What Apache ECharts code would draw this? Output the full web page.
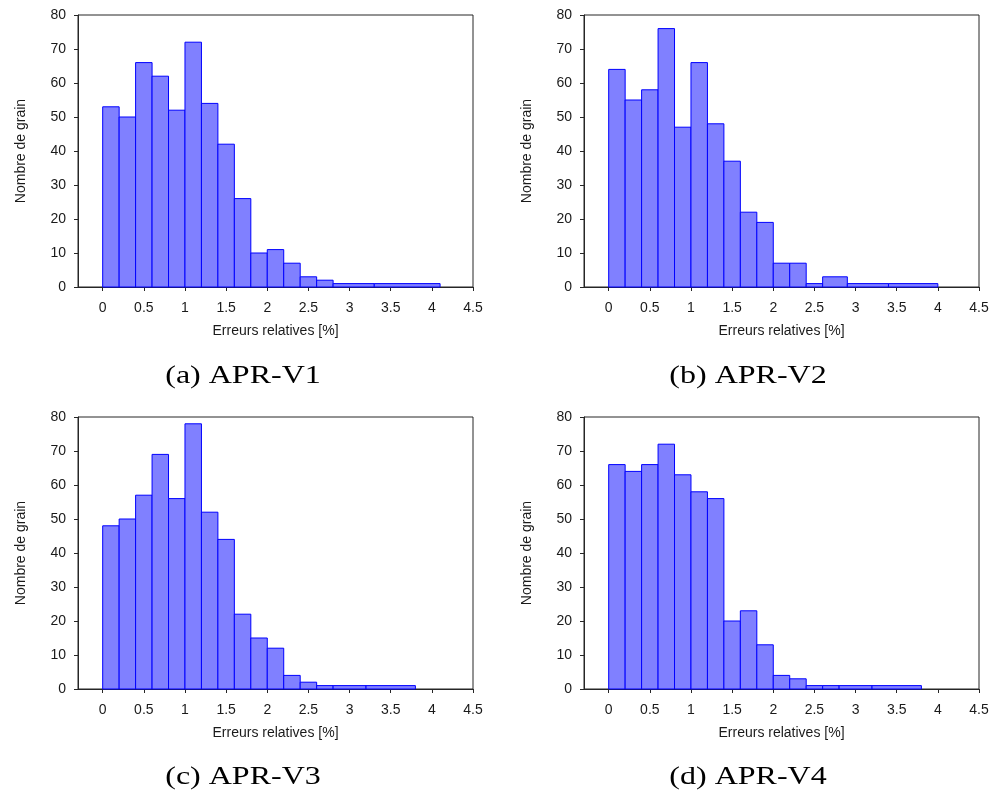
<!DOCTYPE html>
<html>
<head>
<meta charset="utf-8">
<script src="https://cdn.jsdelivr.net/npm/echarts@6/dist/echarts.min.js"></script>
<style>html,body{margin:0;padding:0;background:#fff}#c{width:995px;height:794px}</style>
</head>
<body>
<div id="c"></div>
<script>
// ---- data ----
const edgesA = [0, 0.2, 0.4, 0.6, 0.8, 1.0, 1.2, 1.4, 1.6, 1.8, 2.0, 2.2, 2.4, 2.6, 2.8, 3.3, 4.1];
const countsA = [53, 50, 66, 62, 52, 72, 54, 42, 26, 10, 11, 7, 3, 2, 1, 1];
const edgesB = [0, 0.2, 0.4, 0.6, 0.8, 1.0, 1.2, 1.4, 1.6, 1.8, 2.0, 2.2, 2.4, 2.6, 2.9, 3.4, 4.0];
const countsB = [64, 55, 58, 76, 47, 66, 48, 37, 22, 19, 7, 7, 1, 3, 1, 1];
const edgesC = [0, 0.2, 0.4, 0.6, 0.8, 1.0, 1.2, 1.4, 1.6, 1.8, 2.0, 2.2, 2.4, 2.6, 2.8, 3.2, 3.8];
const countsC = [48, 50, 57, 69, 56, 78, 52, 44, 22, 15, 12, 4, 2, 1, 1, 1];
const edgesD = [0, 0.2, 0.4, 0.6, 0.8, 1.0, 1.2, 1.4, 1.6, 1.8, 2.0, 2.2, 2.4, 2.6, 2.8, 3.2, 3.8];
const countsD = [66, 64, 66, 72, 63, 58, 56, 20, 23, 13, 4, 3, 1, 1, 1, 1];
const xTicks = [0, 0.5, 1, 1.5, 2, 2.5, 3, 3.5, 4, 4.5];
const captions = ['(a) APR-V1', '(b) APR-V2', '(c) APR-V3', '(d) APR-V4'];
const xName = 'Erreurs relatives [%]';
const yName = 'Nombre de grain';

const panels = [[edgesA, countsA], [edgesB, countsB], [edgesC, countsC], [edgesD, countsD]];
const grids = [
  {left: 78, top: 15, width: 395, height: 272},
  {left: 584, top: 15, width: 395, height: 272},
  {left: 78, top: 417, width: 395, height: 272},
  {left: 584, top: 417, width: 395, height: 272}
];
const capPos = [[243, 376], [748, 376], [243, 777], [748, 777]];

const chart = echarts.init(document.getElementById('c'), null, {renderer: 'canvas'});
const axisColor = '#262626';
const font = 'Liberation Sans, Arial, sans-serif';

const option = {
  animation: false,
  grid: grids.map(g => Object.assign({show: true, borderColor: axisColor, borderWidth: 1, backgroundColor: 'transparent'}, g)),
  xAxis: grids.map((g, i) => ({
    type: 'value', gridIndex: i, min: -0.3, max: 4.5,
    splitLine: {show: false},
    axisLine: {show: true, onZero: false, lineStyle: {color: axisColor, width: 1}},
    axisTick: {show: true, inside: false, length: 4, customValues: xTicks, lineStyle: {color: axisColor}},
    axisLabel: {customValues: xTicks, margin: 14, color: '#1a1a1a', fontSize: 14, fontFamily: font},
    name: xName, nameLocation: 'middle', nameGap: 37,
    nameTextStyle: {color: '#1a1a1a', fontSize: 14, fontFamily: font}
  })),
  yAxis: grids.map((g, i) => ({
    type: 'value', gridIndex: i, min: 0, max: 80, interval: 10,
    splitLine: {show: false},
    axisLine: {show: true, onZero: false, lineStyle: {color: axisColor, width: 1}},
    axisTick: {show: true, inside: false, length: 4, lineStyle: {color: axisColor}},
    axisLabel: {margin: 12, color: '#1a1a1a', fontSize: 14, fontFamily: font},
    name: yName, nameLocation: 'middle', nameGap: 50, nameRotate: 90,
    nameTextStyle: {color: '#1a1a1a', fontSize: 14, fontFamily: font}
  })),
  series: panels.map(([edges, counts], i) => ({
    type: 'custom', xAxisIndex: i, yAxisIndex: i,
    encode: {x: [0, 1], y: 2},
    data: counts.map((c, k) => [edges[k], edges[k + 1], c]),
    renderItem: function (params, api) {
      const p0 = api.coord([api.value(0), 0]);
      const p1 = api.coord([api.value(1), api.value(2)]);
      return {
        type: 'rect',
        shape: {x: p0[0], y: p1[1], width: p1[0] - p0[0], height: p0[1] - p1[1]},
        style: {fill: '#8080ff', stroke: '#0000ff', lineWidth: 1}
      };
    }
  })),
  graphic: captions.map((t, i) => ({
    type: 'text', x: capPos[i][0], y: capPos[i][1], scaleX: 1.28,
    style: {text: t, fill: '#000', font: '25px "Liberation Serif", serif', textAlign: 'center', textVerticalAlign: 'middle'}
  }))
};
chart.setOption(option);
</script>
</body>
</html>
